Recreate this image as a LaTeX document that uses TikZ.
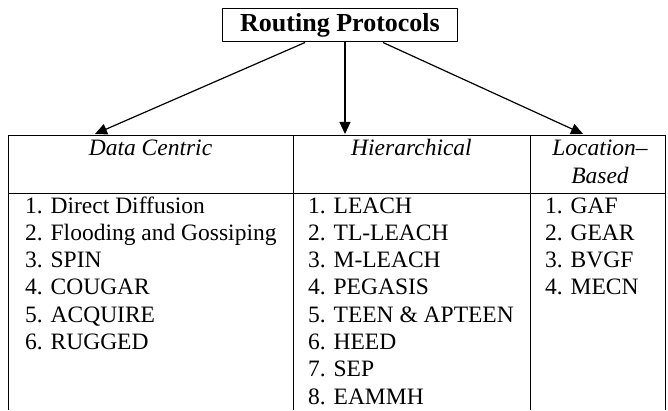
\documentclass[tikz,border=0pt]{standalone}
\usepackage{fontspec}
\setmainfont{Liberation Serif}
\usepackage{tikz}
\usetikzlibrary{arrows.meta,calc}
\usetikzlibrary{positioning}

\tikzset{
    title/.style={draw, line width=1pt, inner sep=0pt, minimum width=235pt, minimum height=33pt,
        font=\fontsize{26}{30}\selectfont\bfseries},
    colhead/.style={inner sep=0pt, anchor=base, font=\fontsize{23.5}{27}\selectfont\itshape},
    item/.style={inner sep=0pt, anchor=base west, font=\fontsize{23.5}{27}\selectfont},
    tbl/.style={line width=1pt},
    arr/.style={line width=1.2pt, -{Triangle[length=12pt,width=11pt]}}
}

\begin{document}
\begin{tikzpicture}[x=1pt,y=1pt]
    \useasboundingbox (0,0) rectangle (668,410);

    % Title
    \node[title] (rp) at (340,384.5) {Routing Protocols};

    % Table frame
    \draw[tbl] (8,0) -- (8,274) -- (665,274) -- (665,0);
    \draw[tbl] (8,217) -- (665,217);
    \draw[tbl] (293,0) -- (293,274);
    \draw[tbl] (530,0) -- (530,274);

    % Arrow ends on the table top
    \coordinate (dcTip) at (95,276);
    \coordinate (hiTip) at (345,276);
    \coordinate (lbTip) at (583,276);

    \draw[arr] ([xshift=-35pt]rp.south) -- (dcTip);
    \draw[arr] ([xshift=5pt]rp.south) -- (hiTip);
    \draw[arr] ([xshift=43pt]rp.south) -- (lbTip);

    % Column headers
    \node[colhead] (dcHead) at (150.5,254) {Data Centric};
    \node[colhead] (hiHead) at (411.5,254) {Hierarchical};
    \node[colhead] (lbHead) at (600,254) {Location--};
    \node[colhead] (lbHead2) at (600,226.7) {Based};

    % Lists
    \foreach \t [count=\i] in {Direct Diffusion, Flooding and Gossiping, SPIN, COUGAR, ACQUIRE, RUGGED}
        \node[item] (dc\i) at (25,{197-27.3*(\i-1)}) {\i. \t};
    \foreach \t [count=\i] in {LEACH, TL-LEACH, M-LEACH, PEGASIS, TEEN \& APTEEN, HEED, SEP, EAMMH}
        \node[item] (hi\i) at (308,{197-27.3*(\i-1)}) {\i. \t};
    \foreach \t [count=\i] in {GAF, GEAR, BVGF, MECN}
        \node[item] (lb\i) at (545,{197-27.3*(\i-1)}) {\i. \t};
\end{tikzpicture}
\end{document}
